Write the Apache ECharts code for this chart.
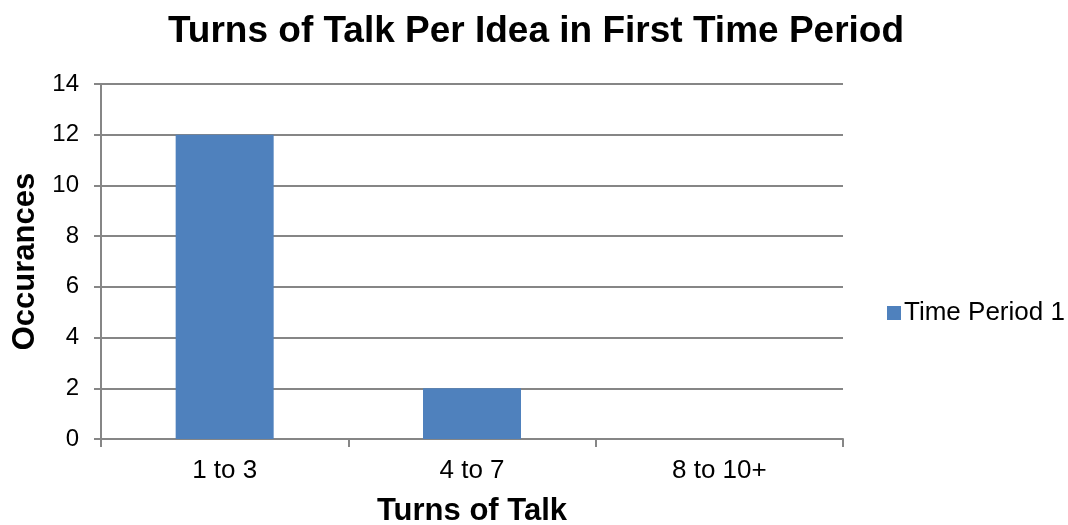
<!DOCTYPE html>
<html>
<head>
<meta charset="utf-8">
<script src="https://cdn.jsdelivr.net/npm/echarts@6/dist/echarts.min.js"></script>
<style>
  html, body { margin: 0; padding: 0; background: #ffffff; }
  #chart { width: 1068px; height: 525px; }
</style>
</head>
<body>
<div id="chart"></div>
<script>
// Chart data
const categories = ['1 to 3', '4 to 7', '8 to 10+'];
const seriesName = 'Time Period 1';
const occurrences = [12, 2, 0];
const yTicks = { min: 0, max: 14, interval: 2 };

const FONT = '"Liberation Sans", Arial, sans-serif';
const AXIS_GRAY = '#868686';

const chart = echarts.init(document.getElementById('chart'), null, { renderer: 'canvas' });

chart.setOption({
  animation: false,
  backgroundColor: '#ffffff',
  textStyle: { fontFamily: FONT },
  title: {
    text: 'Turns of Talk Per Idea in First Time Period',
    left: 531,
    textAlign: 'center',
    top: 8,
    textStyle: { fontFamily: FONT, fontSize: 37, fontWeight: 'bold', color: '#000000' }
  },
  legend: {
    data: [seriesName],
    left: 882,
    top: 295,
    icon: 'rect',
    itemWidth: 14,
    itemHeight: 14,
    itemGap: 5,
    textStyle: { fontFamily: FONT, fontSize: 26, color: '#000000', padding: [0, 0, 0, -2] }
  },
  grid: { left: 101, right: 225, top: 84, bottom: 86, containLabel: false, outerBoundsMode: 'none' },
  xAxis: {
    type: 'category',
    data: categories,
    name: 'Turns of Talk',
    nameLocation: 'middle',
    nameGap: 57,
    nameTextStyle: { fontFamily: FONT, fontSize: 31, fontWeight: 'bold', color: '#000000' },
    axisLine: { lineStyle: { color: AXIS_GRAY, width: 2 } },
    axisTick: { show: true, length: 8, alignWithLabel: false, lineStyle: { color: AXIS_GRAY, width: 2 } },
    axisLabel: { fontFamily: FONT, fontSize: 26, color: '#000000', margin: 19 }
  },
  yAxis: {
    type: 'value',
    min: yTicks.min,
    max: yTicks.max,
    interval: yTicks.interval,
    name: 'Occurances',
    nameLocation: 'middle',
    nameGap: 59,
    nameTextStyle: { fontFamily: FONT, fontSize: 31, fontWeight: 'bold', color: '#000000' },
    axisLine: { show: true, lineStyle: { color: AXIS_GRAY, width: 2 } },
    axisTick: { show: true, length: 7, lineStyle: { color: AXIS_GRAY, width: 2 } },
    axisLabel: { fontFamily: FONT, fontSize: 24, color: '#000000', margin: 22 },
    splitLine: { show: true, lineStyle: { color: AXIS_GRAY, width: 2 } }
  },
  series: [{
    name: seriesName,
    type: 'bar',
    data: occurrences,
    barWidth: 98,
    itemStyle: { color: '#4f81bd' }
  }]
});
</script>
</body>
</html>
